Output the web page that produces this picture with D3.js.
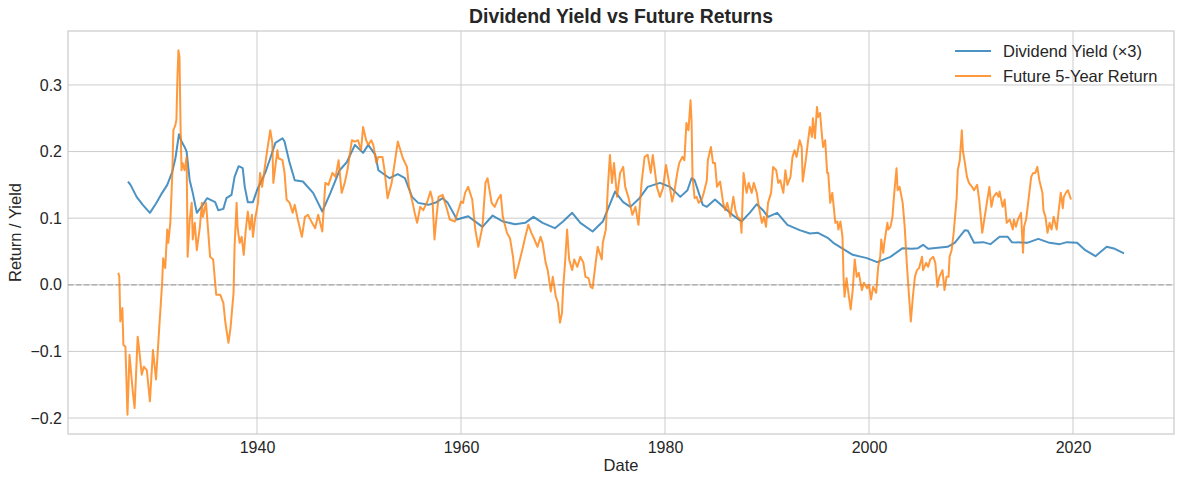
<!DOCTYPE html>
<html><head><meta charset="utf-8">
<script src="https://cdn.jsdelivr.net/npm/d3@7"></script>
<style>body{margin:0;background:#fff;font-family:"Liberation Sans",Arial,sans-serif;}</style>
</head><body><svg id="c" width="1184" height="484"></svg>
<script>
const divDates=[1927.35,1927.6,1928.2,1928.8,1929.5,1930.1,1930.7,1931.2,1931.7,1932.0,1932.35,1932.6,1932.9,1933.1,1933.4,1933.7,1934.1,1934.6,1935.1,1935.9,1936.2,1936.7,1937.0,1937.5,1937.8,1938.2,1938.6,1938.8,1939.1,1939.6,1940.0,1940.8,1941.3,1941.8,1942.5,1942.7,1942.9,1943.2,1943.7,1944.5,1945.5,1946.4,1947.2,1948.1,1948.8,1949.6,1950.4,1950.9,1951.6,1951.9,1953.0,1953.8,1954.5,1955.2,1955.8,1956.8,1957.6,1958.2,1958.7,1959.6,1960.7,1962.1,1963.1,1964.1,1965.3,1966.3,1967.1,1968.0,1969.2,1970.0,1970.9,1971.7,1972.9,1973.9,1975.1,1975.9,1976.6,1977.5,1978.3,1979.5,1980.5,1981.5,1982.2,1982.6,1982.9,1983.7,1984.1,1984.9,1985.7,1986.6,1987.5,1988.3,1989.0,1989.6,1990.1,1991.0,1992.0,1993.2,1994.2,1995.0,1996.0,1996.5,1998.4,1999.8,2000.8,2002.1,2003.3,2004.2,2004.8,2005.3,2005.8,2007.7,2008.4,2009.4,2009.7,2010.3,2011.2,2011.9,2012.8,2013.6,2014.0,2015.5,2016.6,2017.7,2018.7,2019.4,2020.4,2021.2,2022.2,2023.3,2024.1,2025.0];
const divYield=[0.155,0.15,0.132,0.12,0.108,0.122,0.138,0.15,0.17,0.19,0.226,0.215,0.207,0.2,0.157,0.138,0.108,0.118,0.13,0.124,0.112,0.114,0.13,0.135,0.162,0.178,0.175,0.147,0.124,0.124,0.142,0.168,0.19,0.213,0.22,0.215,0.202,0.183,0.157,0.155,0.138,0.11,0.138,0.172,0.184,0.21,0.198,0.21,0.195,0.172,0.16,0.166,0.16,0.132,0.123,0.12,0.124,0.13,0.123,0.098,0.103,0.087,0.104,0.095,0.091,0.093,0.102,0.093,0.085,0.095,0.108,0.093,0.08,0.095,0.14,0.124,0.117,0.13,0.147,0.153,0.147,0.132,0.142,0.16,0.157,0.12,0.117,0.128,0.117,0.105,0.095,0.108,0.121,0.112,0.102,0.108,0.09,0.082,0.077,0.078,0.07,0.063,0.045,0.04,0.034,0.042,0.055,0.054,0.055,0.06,0.054,0.057,0.063,0.082,0.081,0.063,0.064,0.061,0.072,0.072,0.064,0.063,0.069,0.063,0.061,0.064,0.063,0.052,0.043,0.057,0.054,0.047];
const retDates=[1926.4,1926.5,1926.6,1926.8,1926.9,1927.1,1927.3,1927.5,1927.8,1928.0,1928.3,1928.4,1928.7,1928.9,1929.2,1929.5,1929.8,1930.1,1930.4,1930.7,1930.8,1931.0,1931.2,1931.3,1931.5,1931.7,1931.8,1932.0,1932.1,1932.2,1932.3,1932.4,1932.5,1932.6,1932.7,1932.9,1933.1,1933.2,1933.4,1933.6,1933.7,1933.9,1934.1,1934.4,1934.6,1934.7,1935.0,1935.2,1935.4,1935.7,1936.0,1936.4,1936.7,1936.9,1937.2,1937.4,1937.7,1937.8,1938.0,1938.1,1938.3,1938.5,1938.7,1938.9,1939.1,1939.3,1939.5,1939.6,1939.8,1940.1,1940.3,1940.5,1941.0,1941.3,1941.5,1941.6,1942.0,1942.1,1942.5,1942.7,1942.9,1943.2,1943.5,1943.7,1944.0,1944.4,1944.7,1945.0,1945.4,1945.7,1946.0,1946.4,1946.7,1947.0,1947.4,1947.7,1948.0,1948.3,1948.6,1948.9,1949.3,1949.6,1949.9,1950.2,1950.4,1950.7,1950.9,1951.2,1951.4,1951.7,1951.9,1952.3,1952.5,1952.8,1953.2,1953.5,1953.8,1954.0,1954.3,1954.7,1954.9,1955.3,1955.5,1955.7,1956.0,1956.3,1956.7,1957.0,1957.2,1957.4,1957.6,1957.8,1958.2,1958.6,1958.9,1959.4,1959.7,1960.0,1960.2,1960.4,1960.7,1961.1,1961.4,1961.7,1962.1,1962.4,1962.6,1963.0,1963.3,1963.6,1963.9,1964.1,1964.5,1964.8,1965.1,1965.3,1965.6,1966.0,1966.3,1966.6,1966.9,1967.2,1967.5,1967.8,1968.0,1968.3,1968.5,1968.8,1969.0,1969.3,1969.5,1969.7,1969.9,1970.0,1970.2,1970.4,1970.6,1970.9,1971.1,1971.4,1971.7,1972.0,1972.2,1972.5,1972.7,1972.9,1973.2,1973.4,1973.8,1973.9,1974.2,1974.4,1974.6,1974.8,1975.0,1975.3,1975.6,1975.9,1976.1,1976.4,1976.8,1977.1,1977.4,1977.7,1978.0,1978.3,1978.6,1978.8,1979.0,1979.2,1979.5,1979.8,1980.1,1980.3,1980.7,1980.9,1981.2,1981.4,1981.7,1981.9,1982.1,1982.3,1982.5,1982.6,1982.7,1982.9,1983.1,1983.3,1983.6,1983.8,1984.1,1984.2,1984.5,1984.7,1984.9,1985.1,1985.4,1985.7,1985.9,1986.1,1986.4,1986.7,1986.9,1987.1,1987.4,1987.5,1987.7,1988.0,1988.2,1988.5,1988.7,1989.0,1989.2,1989.5,1989.7,1989.9,1990.1,1990.4,1990.6,1990.9,1991.1,1991.3,1991.6,1991.8,1992.0,1992.3,1992.5,1992.7,1992.9,1993.2,1993.4,1993.5,1993.8,1994.0,1994.2,1994.4,1994.5,1994.7,1994.9,1995.0,1995.2,1995.4,1995.5,1995.7,1995.9,1996.0,1996.2,1996.4,1996.5,1996.7,1996.9,1997.0,1997.2,1997.4,1997.5,1997.6,1997.8,1997.9,1998.2,1998.4,1998.6,1998.8,1999.0,1999.3,1999.5,1999.8,2000.0,2000.2,2000.4,2000.7,2000.9,2001.1,2001.2,2001.4,2001.5,2001.8,2001.9,2002.1,2002.3,2002.4,2002.5,2002.7,2002.8,2003.0,2003.3,2003.5,2003.7,2003.9,2004.1,2004.3,2004.5,2004.7,2004.9,2005.2,2005.3,2005.6,2005.8,2006.0,2006.3,2006.5,2006.7,2006.9,2007.2,2007.4,2007.6,2007.8,2007.9,2008.1,2008.3,2008.6,2008.7,2008.9,2009.1,2009.2,2009.4,2009.6,2009.8,2010.1,2010.3,2010.6,2010.8,2011.1,2011.3,2011.6,2011.8,2012.0,2012.2,2012.5,2012.7,2012.8,2013.1,2013.3,2013.5,2013.8,2014.1,2014.2,2014.4,2014.6,2014.9,2015.1,2015.2,2015.4,2015.6,2015.9,2016.1,2016.3,2016.5,2016.7,2017.0,2017.1,2017.3,2017.5,2017.7,2017.9,2018.1,2018.4,2018.6,2018.8,2019.0,2019.1,2019.3,2019.5,2019.8,2020.0];
const retValues=[0.018,0.012,-0.055,-0.035,-0.09,-0.093,-0.195,-0.105,-0.157,-0.185,-0.078,-0.09,-0.135,-0.123,-0.128,-0.175,-0.098,-0.142,-0.068,0.003,0.04,0.025,0.083,0.063,0.093,0.168,0.232,0.24,0.248,0.312,0.352,0.342,0.243,0.172,0.183,0.172,0.192,0.042,0.098,0.123,0.068,0.093,0.052,0.087,0.123,0.102,0.123,0.083,0.042,0.038,-0.015,-0.015,-0.027,-0.057,-0.087,-0.065,-0.012,0.057,0.123,0.085,0.063,0.072,0.045,0.083,0.11,0.083,0.105,0.072,0.098,0.123,0.168,0.147,0.202,0.232,0.213,0.153,0.202,0.19,0.187,0.168,0.128,0.123,0.108,0.12,0.098,0.072,0.102,0.105,0.093,0.085,0.105,0.08,0.153,0.15,0.168,0.162,0.187,0.138,0.153,0.175,0.217,0.215,0.217,0.202,0.237,0.217,0.21,0.217,0.21,0.183,0.192,0.192,0.172,0.13,0.153,0.183,0.215,0.205,0.19,0.177,0.147,0.12,0.105,0.093,0.117,0.112,0.125,0.14,0.128,0.068,0.102,0.132,0.135,0.115,0.098,0.095,0.11,0.125,0.123,0.138,0.147,0.128,0.083,0.057,0.087,0.153,0.16,0.123,0.117,0.128,0.135,0.102,0.078,0.07,0.042,0.01,0.027,0.052,0.072,0.09,0.078,0.068,0.057,0.072,0.063,0.033,0.022,-0.01,0.012,-0.018,-0.027,-0.057,-0.042,-0.008,0.033,0.083,0.038,0.022,0.038,0.027,0.042,0.033,0.012,0.01,-0.003,-0.005,0.033,0.057,0.038,0.063,0.083,0.147,0.195,0.153,0.183,0.132,0.168,0.177,0.147,0.132,0.105,0.117,0.09,0.153,0.192,0.195,0.168,0.195,0.172,0.147,0.132,0.145,0.18,0.162,0.125,0.138,0.168,0.183,0.192,0.187,0.243,0.232,0.277,0.247,0.162,0.13,0.132,0.123,0.128,0.138,0.157,0.187,0.207,0.183,0.183,0.147,0.155,0.123,0.112,0.123,0.102,0.132,0.112,0.102,0.098,0.078,0.168,0.138,0.153,0.138,0.153,0.138,0.117,0.093,0.102,0.087,0.123,0.138,0.177,0.172,0.153,0.157,0.138,0.172,0.15,0.162,0.192,0.202,0.192,0.217,0.207,0.155,0.187,0.213,0.237,0.222,0.25,0.22,0.267,0.252,0.258,0.222,0.207,0.217,0.168,0.168,0.123,0.138,0.123,0.093,0.095,0.083,0.095,0.072,0.012,-0.018,0.01,-0.003,-0.037,-0.008,0.038,0.012,0.018,-0.008,0.003,-0.005,0.0,-0.022,-0.003,-0.012,0.027,0.042,0.068,0.048,0.063,0.093,0.083,0.087,0.102,0.123,0.142,0.175,0.142,0.147,0.123,0.087,0.033,-0.012,-0.055,-0.018,0.012,0.022,0.025,0.042,0.022,0.033,0.027,0.038,0.042,0.033,-0.003,0.012,0.022,-0.008,0.012,0.012,0.042,0.052,0.078,0.132,0.172,0.187,0.232,0.202,0.183,0.162,0.153,0.147,0.142,0.15,0.128,0.078,0.098,0.128,0.147,0.117,0.132,0.138,0.132,0.14,0.117,0.128,0.093,0.098,0.083,0.098,0.087,0.098,0.108,0.048,0.087,0.098,0.123,0.162,0.168,0.168,0.177,0.157,0.138,0.112,0.102,0.078,0.093,0.083,0.102,0.083,0.112,0.138,0.115,0.132,0.138,0.142,0.128];
const yTicks=[-0.2,-0.1,0.0,0.1,0.2,0.3];
const xTicks=[1940,1960,1980,2000,2020];
const seriesNames=["Dividend Yield (×3)","Future 5-Year Return"];

const svg=d3.select("#c");
const m={l:68,r:1174,t:31,b:434};
const x=d3.scaleLinear().domain([1921.47,2029.9]).range([m.l,m.r]);
const y=d3.scaleLinear().domain([-0.224,0.381]).range([m.b,m.t]);
const gridC="#cccccc", txt="#262626";

svg.append("g").selectAll("line").data(xTicks).join("line")
 .attr("x1",d=>x(d)).attr("x2",d=>x(d)).attr("y1",m.t).attr("y2",m.b)
 .attr("stroke",gridC).attr("stroke-width",1);
svg.append("g").selectAll("line").data(yTicks).join("line")
 .attr("y1",d=>y(d)).attr("y2",d=>y(d)).attr("x1",m.l).attr("x2",m.r)
 .attr("stroke",gridC).attr("stroke-width",1);
svg.append("rect").attr("x",m.l).attr("y",m.t).attr("width",m.r-m.l).attr("height",m.b-m.t)
 .attr("fill","none").attr("stroke",gridC).attr("stroke-width",1.25);

const xa=svg.append("g").attr("transform",`translate(0,${m.b})`)
 .call(d3.axisBottom(x).tickValues(xTicks).tickFormat(d3.format("d")).tickSize(0).tickPadding(8));
const ya=svg.append("g").attr("transform",`translate(${m.l},0)`)
 .call(d3.axisLeft(y).tickValues(yTicks).tickFormat(d=>d3.format(".1f")(d).replace("-","−")).tickSize(0).tickPadding(6));
[xa,ya].forEach(g=>{g.select(".domain").remove();g.selectAll("text").attr("font-size",16).attr("fill",txt).attr("font-family","Liberation Sans, Arial, sans-serif");});

svg.append("line").attr("x1",m.l).attr("x2",m.r).attr("y1",y(0)).attr("y2",y(0))
 .attr("stroke","#999").attr("stroke-opacity",0.8).attr("stroke-width",1.3).attr("stroke-dasharray","5.5,2.4");

const line=d3.line().x(d=>x(d[0])).y(d=>y(d[1]));
const blue="#1f77b4", orange="#ff7f0e";
svg.append("path").datum(divDates.map((d,i)=>[d,divYield[i]])).attr("d",line)
 .attr("fill","none").attr("stroke",blue).attr("stroke-opacity",0.8).attr("stroke-width",2).attr("stroke-linejoin","round");
svg.append("path").datum(retDates.map((d,i)=>[d,retValues[i]])).attr("d",line)
 .attr("fill","none").attr("stroke",orange).attr("stroke-opacity",0.8).attr("stroke-width",2).attr("stroke-linejoin","round");

const lg=svg.append("g");
[blue,orange].forEach((c,i)=>{
 const yy=51+i*25;
 lg.append("line").attr("x1",955).attr("x2",991).attr("y1",yy).attr("y2",yy).attr("stroke",c).attr("stroke-opacity",0.8).attr("stroke-width",2);
 lg.append("text").attr("x",1003).attr("y",yy+6).attr("font-size",16.5).attr("fill",txt).text(seriesNames[i]);
});

svg.append("text").attr("x",(m.l+m.r)/2).attr("y",23).attr("text-anchor","middle").attr("font-size",19.4).attr("font-weight","bold").attr("fill",txt).text("Dividend Yield vs Future Returns");
svg.append("text").attr("x",(m.l+m.r)/2).attr("y",471).attr("text-anchor","middle").attr("font-size",16.5).attr("fill",txt).text("Date");
svg.append("text").attr("transform",`translate(21,${(m.t+m.b)/2}) rotate(-90)`).attr("text-anchor","middle").attr("font-size",16.5).attr("fill",txt).text("Return / Yield");
</script></body></html>
